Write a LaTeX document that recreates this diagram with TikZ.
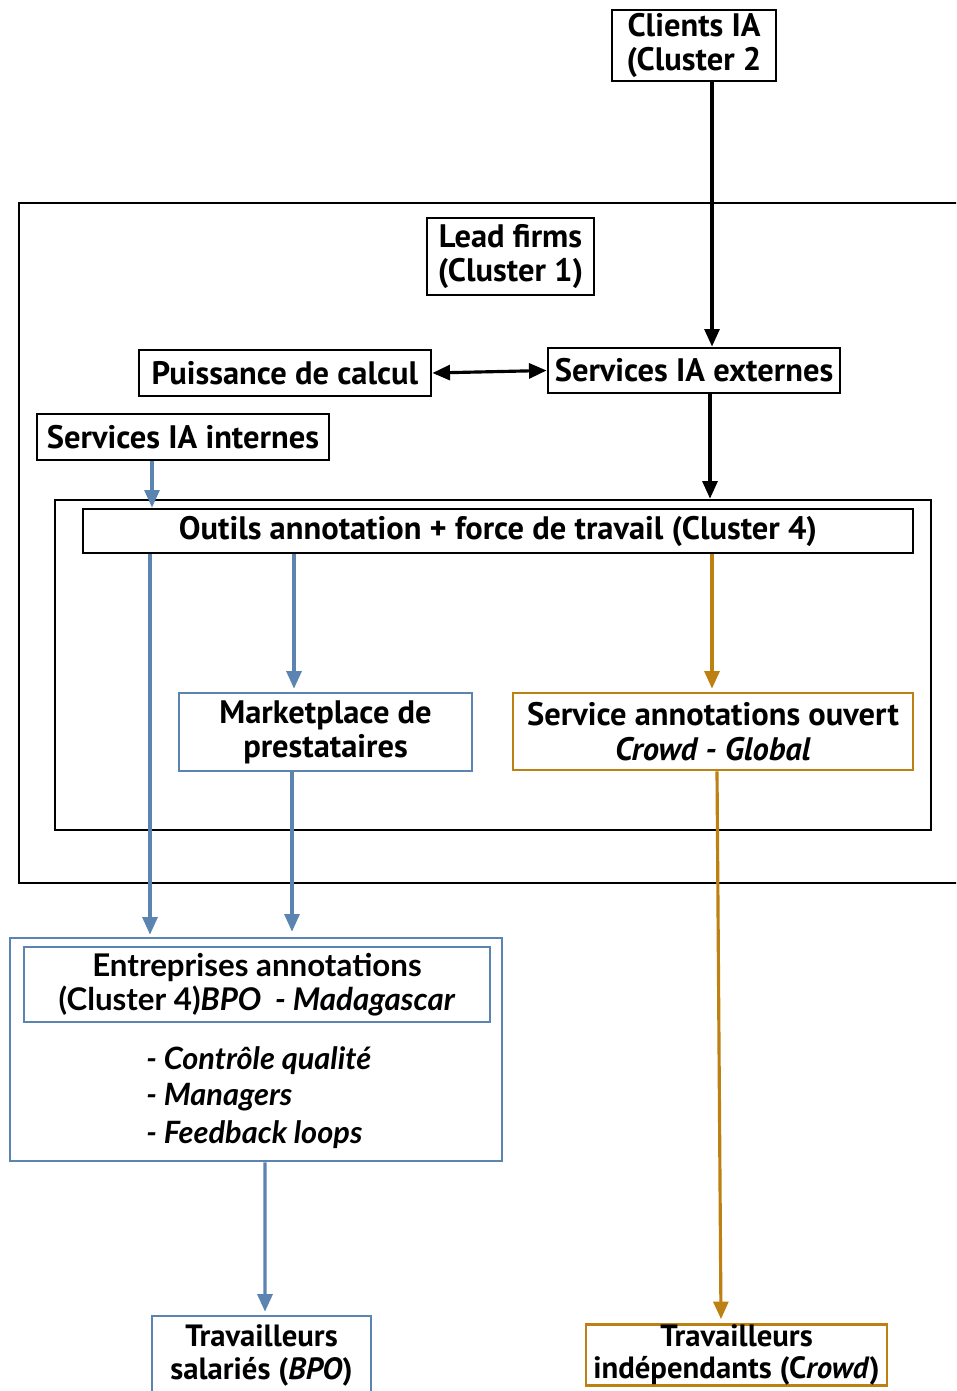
\documentclass[tikz,border=0pt]{standalone}
\usepackage{fontspec}
\setmainfont{PT Sans}
\newfontfamily\latofont{Lato}
\usetikzlibrary{arrows.meta, calc}
\definecolor{bpoBlue}{RGB}{91,132,177}
\definecolor{crowdGold}{RGB}{189,128,18}

\begin{document}
\begin{tikzpicture}[x=0.02cm,y=-0.02cm]
    \tikzstyle{myBox}=[draw, line width=1.6pt, inner sep=0pt, align=center,
        font=\fontsize{18.5}{19.5}\selectfont\bfseries];
    \tikzset{sz/.style 2 args={minimum width=#1*0.02cm, minimum height=#2*0.02cm}};
    \tikzstyle{blueBox}=[myBox, draw=bpoBlue, line width=1.5pt];
    \tikzstyle{goldBox}=[myBox, draw=crowdGold, line width=1.5pt];
    \tikzstyle{workBox}=[font=\fontsize{17.5}{18.5}\selectfont\bfseries];
    \tikzstyle{myArr}=[line width=1.8pt, -{Triangle[length=10pt,width=8.5pt]}];
    \useasboundingbox (0,0) rectangle (956,1391);
    \clip (0,0) rectangle (956,1391);

    % lead firms frame, open on the right
    \draw[line width=1.5pt] (960,203) -- (19,203) -- (19,883) -- (960,883);
    \node[draw, line width=1.5pt, sz={876}{330}] (frame4) at (493,665) {};

    \node[myBox, sz={164}{71}] (clients) at (694,45.5) {Clients IA\\(Cluster 2};
    \node[myBox, sz={167}{77}] (lead) at (510.5,256.5) {Lead firms\\(Cluster 1)};
    \node[myBox, sz={292}{46}] (calcul) at (285,373) {Puissance de calcul};
    \node[myBox, sz={292}{45}] (externes) at (694,370.5) {Services IA externes};
    \node[myBox, sz={292}{46}] (internes) at (183,437) {Services IA internes};
    \node[myBox, sz={830}{44}] (outils) at (498,531)
        {Outils annotation + force de travail (Cluster 4)};
    \node[blueBox, sz={293}{78}] (market) at (325.5,732)
        {Marketplace de\\prestataires};
    \node[goldBox, sz={400}{77}] (service) at (713,731.5)
        {Service annotations ouvert\\\textit{Crowd - Global}};

    % BPO block
    \node[blueBox, sz={492}{223}] (entout) at (256,1049.5) {};
    \node[blueBox, sz={466}{75}, font=\latofont\fontsize{17.8}{19.5}\selectfont\bfseries]
        (ent) at (257,984.5)
        {Entreprises annotations\\(Cluster 4)\textit{BPO\ \ - Madagascar}};
    \node[anchor=north west, align=left, inner sep=0pt,
        font=\latofont\fontsize{17.5}{19}\selectfont\bfseries\itshape]
        (liste) at (146,1046)
        {- Contrôle qualité\\[1.5pt] - Managers\\[2.5pt] - Feedback loops};

    \node[blueBox, workBox, sz={219}{79}] (salaries) at (261.5,1355.5)
        {Travailleurs\\salariés (\textit{BPO})};
    \node[goldBox, workBox, sz={301}{60}] (indep) at (736.5,1355)
        {Travailleurs\\indépendants (C\textit{rowd})};

    % connectors
    \draw[myArr] ($(clients.south)+(18,0)$) -- ($(externes.north)+(18,0)$);
    \draw[line width=1.8pt, {Triangle[length=10pt,width=8.5pt]}-{Triangle[length=10pt,width=8.5pt]}]
        (calcul.east) -- (externes.west);
    \draw[myArr] ($(externes.south)+(16,0)$) -- ($(frame4.north)+(217,0)$);
    \draw[myArr, bpoBlue] ($(internes.south)+(-31,0)$) -- ($(outils.north)+(-346,0)$);
    \draw[myArr, bpoBlue] ($(outils.south)+(-204,0)$) -- ($(market.north)+(-31.5,-3)$);
    \draw[myArr, crowdGold] ($(outils.south)+(214,0)$) -- ($(service.north)+(-1,-3)$);
    \draw[myArr, bpoBlue] ($(outils.south)+(-348,0)$) -- ($(entout.north)+(-106,-2)$);
    \draw[myArr, bpoBlue] ($(market.south)+(-33.5,0)$) -- ($(entout.north)+(36,-5)$);
    \draw[myArr, bpoBlue] ($(entout.south)+(9,0)$) -- ($(salaries.north)+(3.5,-3)$);
    \draw[myArr, crowdGold] ($(service.south)+(4,0)$) -- ($(indep.north)+(-15.5,-4)$);
\end{tikzpicture}
\end{document}
